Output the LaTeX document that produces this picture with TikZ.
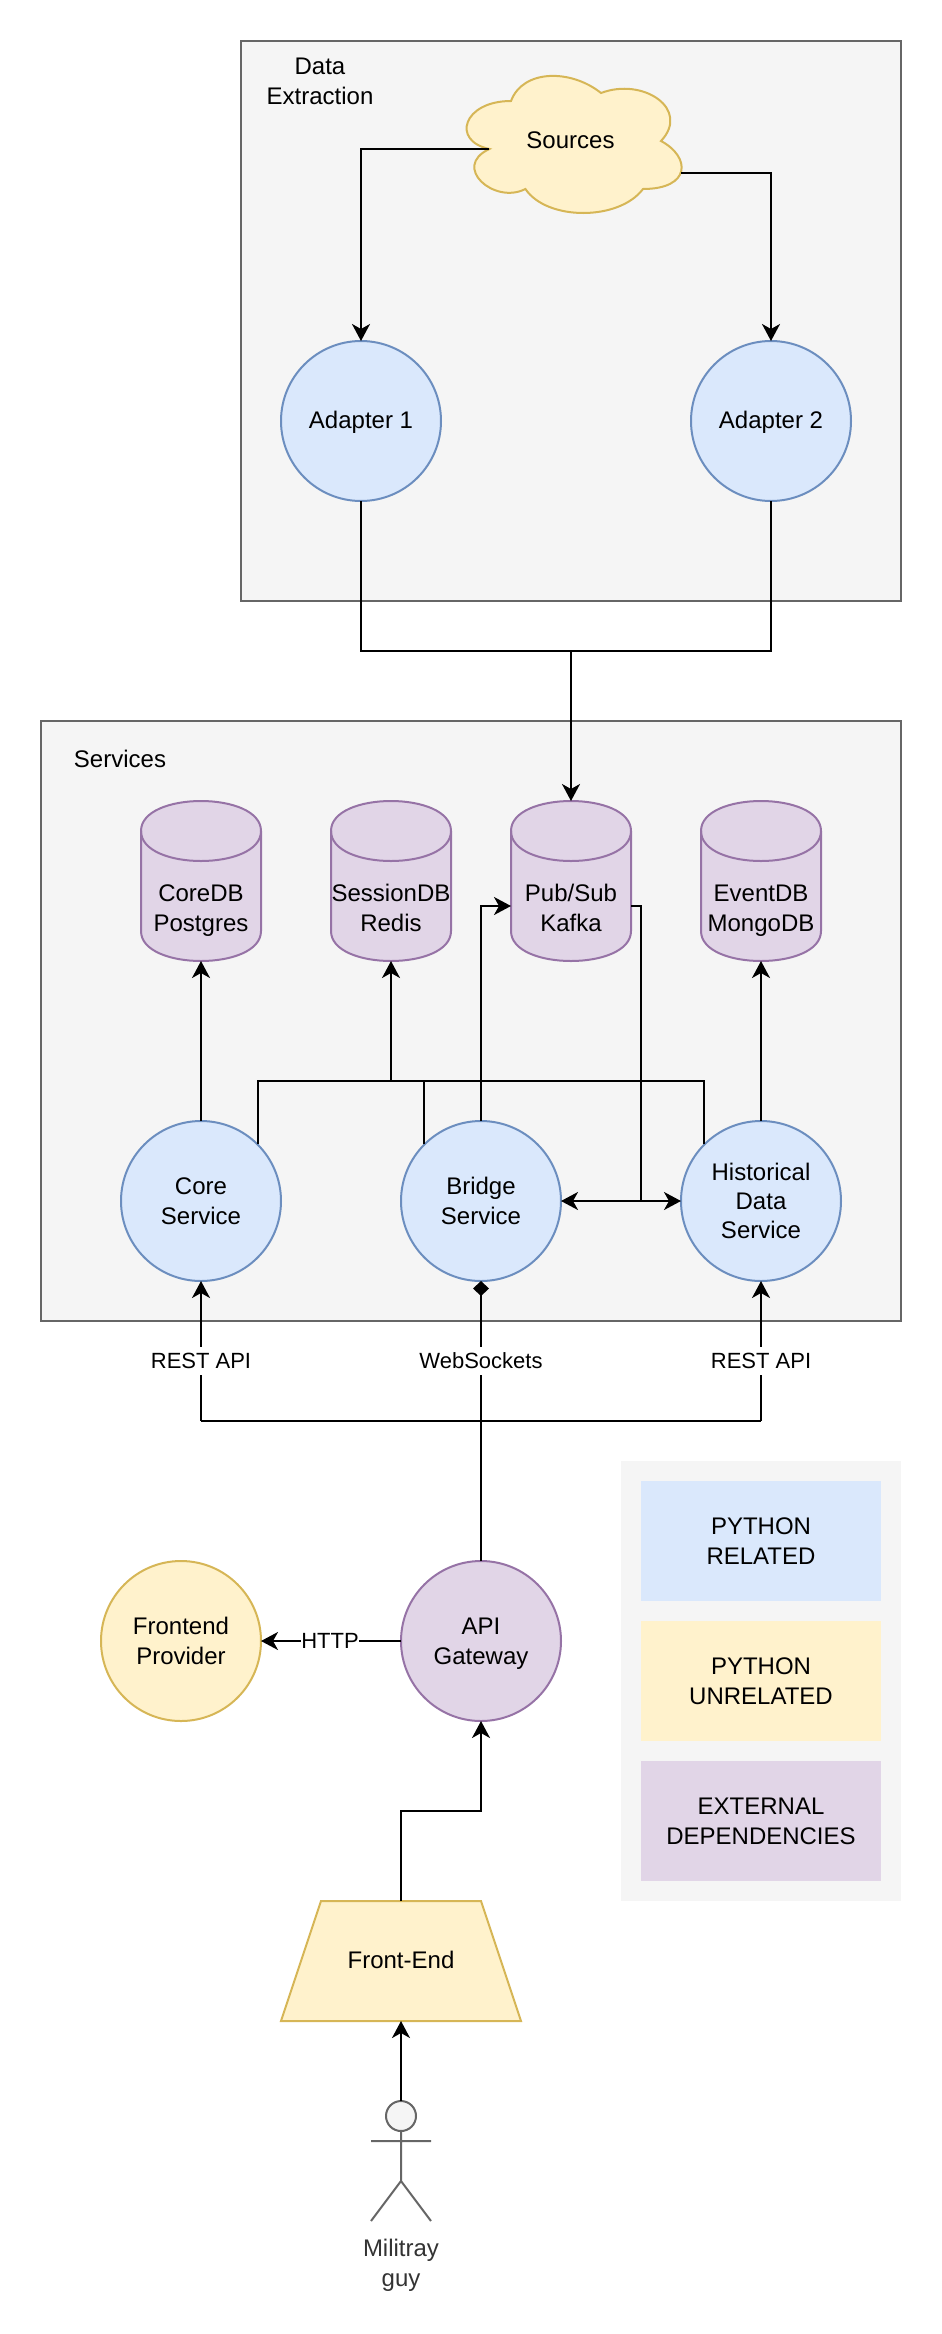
\documentclass[tikz,border=0pt]{standalone}
\usepackage{fontspec}
\setmainfont{Liberation Sans}
\usetikzlibrary{arrows.meta}
\definecolor{blueF}{HTML}{DAE8FC}\definecolor{blueS}{HTML}{6C8EBF}
\definecolor{yelF}{HTML}{FFF2CC}\definecolor{yelS}{HTML}{D6B656}
\definecolor{purF}{HTML}{E1D5E7}\definecolor{purS}{HTML}{9673A6}
\definecolor{grayF}{HTML}{F5F5F5}\definecolor{grayS}{HTML}{666666}
\definecolor{txtgray}{HTML}{333333}
\newcommand{\mainline}{\rule[-7pt]{0pt}{28pt}}
\newcommand{\smallline}{\rule[-6pt]{0pt}{26pt}}
\newcommand{\up}{\rule{0pt}{24pt}}
\tikzset{
  every node/.style={font=\fontsize{24}{30}\selectfont,align=center,inner sep=0pt,outer sep=0pt,text=black,
     execute at begin node=\mainline,execute at end node=\mainline},
  group/.style={draw=grayS,fill=grayF,line width=2pt},
  ball/.style={circle,minimum size=160pt,line width=2pt},
  blueball/.style={ball,draw=blueS,fill=blueF},
  yelball/.style={ball,draw=yelS,fill=yelF},
  purball/.style={ball,draw=purS,fill=purF},
  legendbox/.style={minimum width=240pt,minimum height=120pt},
  conn/.style={draw=black,line width=2pt},
  arr/.style={conn,-{Stealth[length=17pt,width=18pt,inset=5pt]}},
  dia/.style={conn,-{Diamond[length=15pt,width=16pt]}},
  both/.style={conn,{Stealth[length=17pt,width=18pt,inset=5pt]}-{Stealth[length=17pt,width=18pt,inset=5pt]}},
  elabel/.style={fill=white,font=\fontsize{22}{26}\selectfont,execute at begin node=\smallline,execute at end node=\smallline},
  cylbody/.style={draw=purS,fill=purF,line width=2pt},
  slot/.style={minimum width=120pt,minimum height=160pt},
  stick/.style={draw=grayS,line width=2pt},
}
\newcommand{\dbcyl}[3]{%
  \path[cylbody] (#2-60,831) .. controls (#2-60,791) and (#2+60,791) .. (#2+60,831)
     -- (#2+60,931) .. controls (#2+60,971) and (#2-60,971) .. (#2-60,931) -- cycle;
  \draw[cylbody,fill=none] (#2-60,831) .. controls (#2-60,871) and (#2+60,871) .. (#2+60,831);
  \node[slot,label={[yshift=-27pt]center:{#3}}] (#1) at (#2,881) {};
}
\begin{document}
\begin{tikzpicture}[x=1pt,y=-1pt]
\useasboundingbox (0,0) rectangle (942,2334);
% groups
\path[group] (241,41) rectangle (901,601);
\path[group] (41,721) rectangle (901,1321);
\node (dataTitle) at (320,81) {\up Data\\Extraction};
\node (servicesTitle) at (120,760) {Services};
% cloud
\path[draw=yelS,fill=yelF,line width=2pt] (511,101)
  .. controls (463,101) and (451,141) .. (489.4,149)
  .. controls (451,166.6) and (494.2,205) .. (525.4,189)
  .. controls (547,221) and (619,221) .. (643,189)
  .. controls (691,189) and (691,157) .. (661,141)
  .. controls (691,109) and (643,77) .. (601,93)
  .. controls (571,69) and (523,69) .. (511,101) -- cycle;
\node[minimum width=240pt,minimum height=160pt] (sources) at (570.5,141) {Sources};
% adapters
\node[blueball] (ad1) at (361,421) {Adapter 1};
\node[blueball] (ad2) at (771,421) {Adapter 2};
% cylinders
\dbcyl{coredb}{201}{\up CoreDB\\Postgres}
\dbcyl{sessdb}{391}{\up SessionDB\\Redis}
\dbcyl{kafka}{571}{\up Pub/Sub\\Kafka}
\dbcyl{eventdb}{761}{\up EventDB\\MongoDB}
% services
\node[blueball] (core) at (201,1201) {\up Core\\Service};
\node[blueball] (bridge) at (481,1201) {\up Bridge\\Service};
\node[blueball,font=\fontsize{24}{29}\selectfont] (hist) at (761,1201) {\up Historical\\Data\\Service};
% lower
\node[yelball] (fprov) at (181,1641) {\up Frontend\\Provider};
\node[purball] (api) at (481,1641) {\up API\\Gateway};
\path[draw=yelS,fill=yelF,line width=2pt] (321,1901) -- (481,1901) -- (521,2021) -- (281,2021) -- cycle;
\node[legendbox] (frontend) at (401,1961) {Front-End};
% actor
\draw[stick] (401,2131) -- (401,2181) (371,2141) -- (431,2141) (371,2221) -- (401,2181) -- (431,2221);
\node[circle,minimum size=30pt,draw=grayS,fill=grayF,line width=2pt] (actor) at (401,2116) {};
\node[text=txtgray] (actorName) at (401,2263) {\up Militray\\guy};
% legend
\path[fill=grayF] (621,1461) rectangle (901,1901);
\node[legendbox,fill=blueF] (lg1) at (761,1541) {\up PYTHON\\RELATED};
\node[legendbox,fill=yelF] (lg2) at (761,1681) {\up PYTHON\\UNRELATED};
\node[legendbox,fill=purF] (lg3) at (761,1821) {\up EXTERNAL\\DEPENDENCIES};
% coordinates
\coordinate (merge) at (571,651);
\coordinate (dbjoin) at (391,1081);
\coordinate (busJoin) at (481,1421);
\coordinate (busL) at (201,1421);
\coordinate (busR) at (761,1421);
\coordinate (feBend) at (401,1811);
\coordinate (kafkaDrop) at (641,1201);
% connectors
\draw[arr] ([xshift=38.9pt,yshift=-8pt]sources.west) -| (ad1.north);
\draw[arr] ([xshift=-9.1pt,yshift=-32pt]sources.east) -| (ad2.north);
\draw[conn] (ad1.south) |- (merge);
\draw[conn] (ad2.south) |- (merge);
\draw[arr] (merge) -- (kafka.north);
\draw[arr] (core.north) -- (coredb.south);
\draw[arr] (hist.north) -- (eventdb.south);
\draw[arr] (bridge.north) |- ([yshift=-25pt]kafka.west);
\draw[conn] (core.45) |- (dbjoin);
\draw[conn] (bridge.135) |- (dbjoin);
\draw[conn] (hist.135) |- (dbjoin);
\draw[arr] (dbjoin) -- (sessdb.south);
\draw[conn] ([yshift=-25pt]kafka.east) -| (kafkaDrop);
\draw[both] (bridge.east) -- (hist.west);
\draw[conn] (busL) -- (busR);
\draw[arr] (busL) -- (core.south) node[elabel,pos=.4286] (lblA) {REST API};
\draw[arr] (busR) -- (hist.south) node[elabel,pos=.4286] (lblB) {REST API};
\draw[dia] (api.north) -- (bridge.south) node[elabel,pos=.714] (lblC) {WebSockets};
\draw[arr] (api.west) -- (fprov.east) node[elabel,pos=.507] (lblD) {HTTP};
\draw[arr] (frontend.north) |- (feBend) -| (api.south);
\draw[arr] (actor.north) -- (frontend.south);
\end{tikzpicture}
\end{document}
